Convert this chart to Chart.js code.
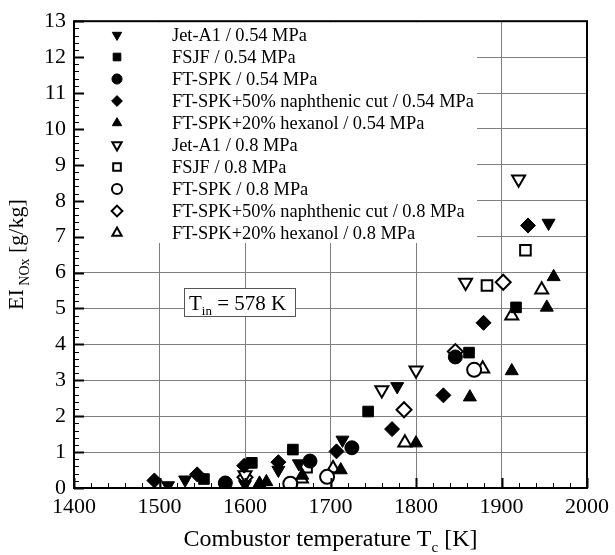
<!DOCTYPE html>
<html>
<head>
<meta charset="utf-8">
<script src="https://cdn.jsdelivr.net/npm/chart.js@4.4.1/dist/chart.umd.min.js"></script>
<style>
  html, body { margin: 0; padding: 0; background: #fff; }
  #wrap { width: 615px; height: 555px; }
</style>
</head>
<body>
<div id="wrap"><canvas id="nox" width="615" height="555"></canvas></div>
<script>
// combustor temperature [K], EI NOx [g/kg]
const jetA1Low = [[1510, 0.07], [1530, 0.23], [1600, 0.1], [1639, 0.5], [1663, 0.68], [1714, 1.34], [1778, 2.83], [1955, 7.38]];
const fsjfLow = [[1552, 0.25], [1608, 0.7], [1656, 1.07], [1744, 2.13], [1862, 3.77], [1917, 5.03]];
const ftspkLow = [[1577, 0.14], [1676, 0.75], [1725, 1.12], [1846, 3.65]];
const naphLow = [[1494, 0.21], [1544, 0.38], [1599, 0.62], [1639, 0.72], [1707, 1.02], [1772, 1.64], [1832, 2.58], [1879, 4.6], [1931, 7.31]];
const hexLow = [[1617, 0.13], [1625, 0.17], [1667, 0.35], [1712, 0.5], [1800, 1.25], [1863, 2.53], [1912, 3.26], [1953, 5.03], [1961, 5.88]];
const jetA1High = [[1600, 0.36], [1760, 2.73], [1800, 3.28], [1858, 5.72], [1920, 8.6]];
const fsjfHigh = [[1672, 0.58], [1883, 5.64], [1928, 6.62]];
const ftspkHigh = [[1653, 0.12], [1696, 0.31], [1868, 3.29]];
const naphHigh = [[1600, 0.3], [1786, 2.18], [1846, 3.8], [1902, 5.73]];
const hexHigh = [[1666, 0.26], [1703, 0.54], [1787, 1.26], [1878, 3.32], [1912, 4.8], [1947, 5.52]];

const seriesLabels = [
  'Jet-A1 / 0.54 MPa', 'FSJF / 0.54 MPa', 'FT-SPK / 0.54 MPa',
  'FT-SPK+50% naphthenic cut / 0.54 MPa', 'FT-SPK+20% hexanol / 0.54 MPa',
  'Jet-A1 / 0.8 MPa', 'FSJF / 0.8 MPa', 'FT-SPK / 0.8 MPa',
  'FT-SPK+50% naphthenic cut / 0.8 MPa', 'FT-SPK+20% hexanol / 0.8 MPa'
];
const seriesData = [jetA1Low, fsjfLow, ftspkLow, naphLow, hexLow, jetA1High, fsjfHigh, ftspkHigh, naphHigh, hexHigh];
const xTicks = [1400, 1500, 1600, 1700, 1800, 1900, 2000];
const yTicks = [0, 1, 2, 3, 4, 5, 6, 7, 8, 9, 10, 11, 12, 13];

const SERIF = '"Liberation Serif", "DejaVu Serif", serif';

// marker shape per fuel, same order for both pressures
const shapes = [
  { pointStyle: 'triangle', rotation: 180, radius: 7.5 },
  { pointStyle: 'rect', rotation: 0, radius: 7.5 },
  { pointStyle: 'circle', rotation: 0, radius: 7 },
  { pointStyle: 'rectRot', rotation: 0, radius: 7.5 },
  { pointStyle: 'triangle', rotation: 0, radius: 7.5 }
];

const datasets = seriesData.map((rows, i) => {
  const shape = shapes[i % 5];
  const open = i >= 5;
  return {
    label: seriesLabels[i],
    data: rows.map(r => ({ x: r[0], y: r[1] })),
    pointStyle: shape.pointStyle,
    rotation: shape.rotation,
    pointRadius: shape.radius,
    pointHoverRadius: shape.radius,
    backgroundColor: open ? '#ffffff' : '#000000',
    borderColor: '#000000',
    borderWidth: open ? 2 : 1
  };
});

function drawSubText(ctx, x, y, parts) {
  // parts: [text, size, dy]
  let cx = x;
  parts.forEach(([text, size, dy]) => {
    ctx.font = `${size}px ${SERIF}`;
    ctx.fillText(text, cx, y + dy);
    cx += ctx.measureText(text).width;
  });
  return cx - x;
}

function measureParts(ctx, parts) {
  let w = 0;
  parts.forEach(([text, size]) => {
    ctx.font = `${size}px ${SERIF}`;
    w += ctx.measureText(text).width;
  });
  return w;
}

const decorations = {
  id: 'decorations',
  beforeDatasetsDraw(chart) {
    const { ctx, chartArea } = chart;
    ctx.save();
    // legend panel hides the grid behind it
    ctx.fillStyle = '#ffffff';
    ctx.fillRect(chartArea.left + 1, chartArea.top + 1, 476 - chartArea.left, 242 - chartArea.top);
    ctx.textBaseline = 'middle';
    ctx.textAlign = 'left';
    datasets.forEach((ds, i) => {
      const y = 35 + i * 22;
      ctx.fillStyle = ds.backgroundColor;
      ctx.strokeStyle = '#000';
      ctx.lineWidth = ds.borderWidth;
      Chart.helpers.drawPoint(ctx, {
        pointStyle: ds.pointStyle,
        rotation: ds.rotation,
        radius: ds.pointRadius * 0.72,
        borderWidth: ds.borderWidth
      }, 117, y);
      ctx.fillStyle = '#000';
      ctx.font = `18.4px ${SERIF}`;
      ctx.fillText(ds.label, 172, y + 1);
    });

    // inlet temperature note
    ctx.fillStyle = '#ffffff';
    ctx.fillRect(184, 288, 112, 29);
    ctx.strokeStyle = '#555';
    ctx.lineWidth = 1;
    ctx.strokeRect(184.5, 288.5, 111, 28);
    ctx.fillStyle = '#000';
    ctx.textBaseline = 'alphabetic';
    drawSubText(ctx, 189, 310, [['T', 21, 0], ['in', 13, 5], [' = 578 K', 21, 0]]);
    ctx.restore();
  },
  afterDraw(chart) {
    const { ctx, chartArea, scales } = chart;
    const xs = scales.x, ys = scales.y;
    ctx.save();
    ctx.strokeStyle = '#000';
    // inward ticks
    for (let t = 1400; t <= 2000; t += 20) {
      const major = t % 100 === 0;
      const px = Math.round(xs.getPixelForValue(t)) + 0.5;
      ctx.lineWidth = major ? 2 : 1;
      ctx.beginPath();
      ctx.moveTo(px, chartArea.bottom);
      ctx.lineTo(px, chartArea.bottom - (major ? 10 : 5));
      ctx.stroke();
    }
    for (let k = 0; k <= 65; k++) {
      const v = k / 5;
      const major = k % 5 === 0;
      const py = Math.round(ys.getPixelForValue(v)) + 0.5;
      ctx.lineWidth = major ? 2 : 1;
      ctx.beginPath();
      ctx.moveTo(chartArea.left, py);
      ctx.lineTo(chartArea.left + (major ? 10 : 5), py);
      ctx.stroke();
    }
    // frame
    ctx.lineWidth = 2;
    ctx.strokeRect(chartArea.left, chartArea.top, chartArea.right - chartArea.left, chartArea.bottom - chartArea.top);

    // axis titles
    ctx.fillStyle = '#000';
    ctx.textBaseline = 'alphabetic';
    ctx.textAlign = 'left';
    const xParts = [['Combustor temperature T', 24, 0], ['c', 15, 6], [' [K]', 24, 0]];
    const xw = measureParts(ctx, xParts);
    drawSubText(ctx, (chartArea.left + chartArea.right) / 2 - xw / 2, 546, xParts);

    const yParts = [['EI', 22, 0], [' NOx', 14, 6], [' [g/kg]', 22, 0]];
    const yw = measureParts(ctx, yParts);
    ctx.translate(23, (chartArea.top + chartArea.bottom) / 2);
    ctx.rotate(-Math.PI / 2);
    drawSubText(ctx, -yw / 2, 0, yParts);
    ctx.restore();
  }
};

new Chart(document.getElementById('nox'), {
  type: 'scatter',
  data: { datasets },
  options: {
    responsive: false,
    devicePixelRatio: 1,
    animation: false,
    layout: { padding: { left: 0, right: 25, top: 17, bottom: 0 } },
    plugins: {
      legend: { display: false },
      tooltip: { enabled: false }
    },
    scales: {
      x: {
        type: 'linear',
        min: 1400,
        max: 2000,
        afterBuildTicks: axis => { axis.ticks = xTicks.map(v => ({ value: v })); },
        afterFit: axis => { axis.height = 67; },
        grid: { color: '#7f7f7f', lineWidth: 1, drawTicks: false },
        border: { display: false },
        ticks: { color: '#000', padding: 6, font: { family: SERIF, size: 22 }, maxRotation: 0, callback: v => String(v) }
      },
      y: {
        type: 'linear',
        min: 0,
        max: 13,
        afterBuildTicks: axis => { axis.ticks = yTicks.map(v => ({ value: v })); },
        afterFit: axis => { axis.width = 74; },
        grid: { color: '#7f7f7f', lineWidth: 1, drawTicks: false },
        border: { display: false },
        ticks: { color: '#000', padding: 8, font: { family: SERIF, size: 22 }, callback: v => String(v) }
      }
    }
  },
  plugins: [decorations]
});
</script>
</body>
</html>
